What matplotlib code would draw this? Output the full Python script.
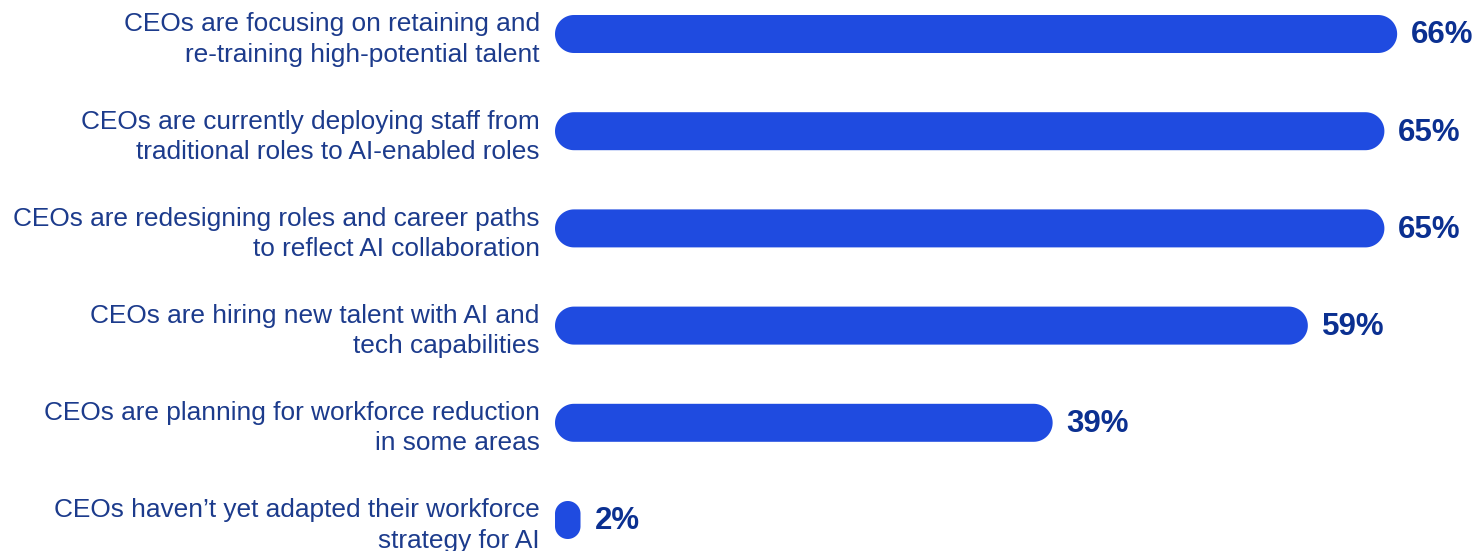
import numpy as np
import matplotlib.pyplot as plt
from matplotlib.patches import Polygon

# Data
labels = [
    "CEOs are focusing on retaining and\nre-training high-potential talent",
    "CEOs are currently deploying staff from\ntraditional roles to AI-enabled roles",
    "CEOs are redesigning roles and career paths\nto reflect AI collaboration",
    "CEOs are hiring new talent with AI and\ntech capabilities",
    "CEOs are planning for workforce reduction\nin some areas",
    "CEOs haven\u2019t yet adapted their workforce\nstrategy for AI",
]
values = [66, 65, 65, 59, 39, 2]

bar_color = "#1f4be0"
label_color = "#1c3b8c"
value_color = "#0b3091"

W, H = 1476, 551
fig = plt.figure(figsize=(W / 100, H / 100), dpi=100)
ax = fig.add_axes([555 / W, 0, 1 - 555 / W, 1])

# pixels per data unit
px_x = 12.76
px_y = 97.2
ax.set_xlim(0, 921 / px_x)
ax.set_ylim(5 + 31 / px_y, -34 / px_y)
ax.axis("off")

aspect = px_x / px_y
bar_h = 38 / px_y


def pill(x0, x1, yc, h):
    # stadium shape with circular ends (radius given in x units)
    r = min(x1 - x0, h / aspect) / 2
    ry = r * aspect
    flat = h / 2 - ry
    pts = []
    for a in np.linspace(np.pi / 2, -np.pi / 2, 40):
        off = flat if np.sin(a) >= 0 else -flat
        pts.append((x1 - r + r * np.cos(a), yc - off - ry * np.sin(a)))
    for a in np.linspace(-np.pi / 2, -3 * np.pi / 2, 40):
        off = flat if np.sin(a) <= 0 else -flat
        pts.append((x0 + r + r * np.cos(a), yc + off - ry * np.sin(a)))
    return np.array(pts)


for i, (lab, v) in enumerate(zip(labels, values)):
    ax.add_patch(Polygon(pill(0, v, i, bar_h), closed=True,
                         facecolor=bar_color, edgecolor="none"))
    ax.annotate(f"{v}%", (v, i), xytext=(10, -1), textcoords="offset points",
                ha="left", va="center", fontsize=22.5, fontweight="bold",
                color=value_color, family="Liberation Sans")
    ax.annotate(lab, (0, i), xytext=(-11, -4), textcoords="offset points",
                ha="right", va="center", fontsize=18.9, color=label_color,
                family="Liberation Sans", linespacing=1.33,
                annotation_clip=False)

fig.savefig("out.png", dpi=100)
